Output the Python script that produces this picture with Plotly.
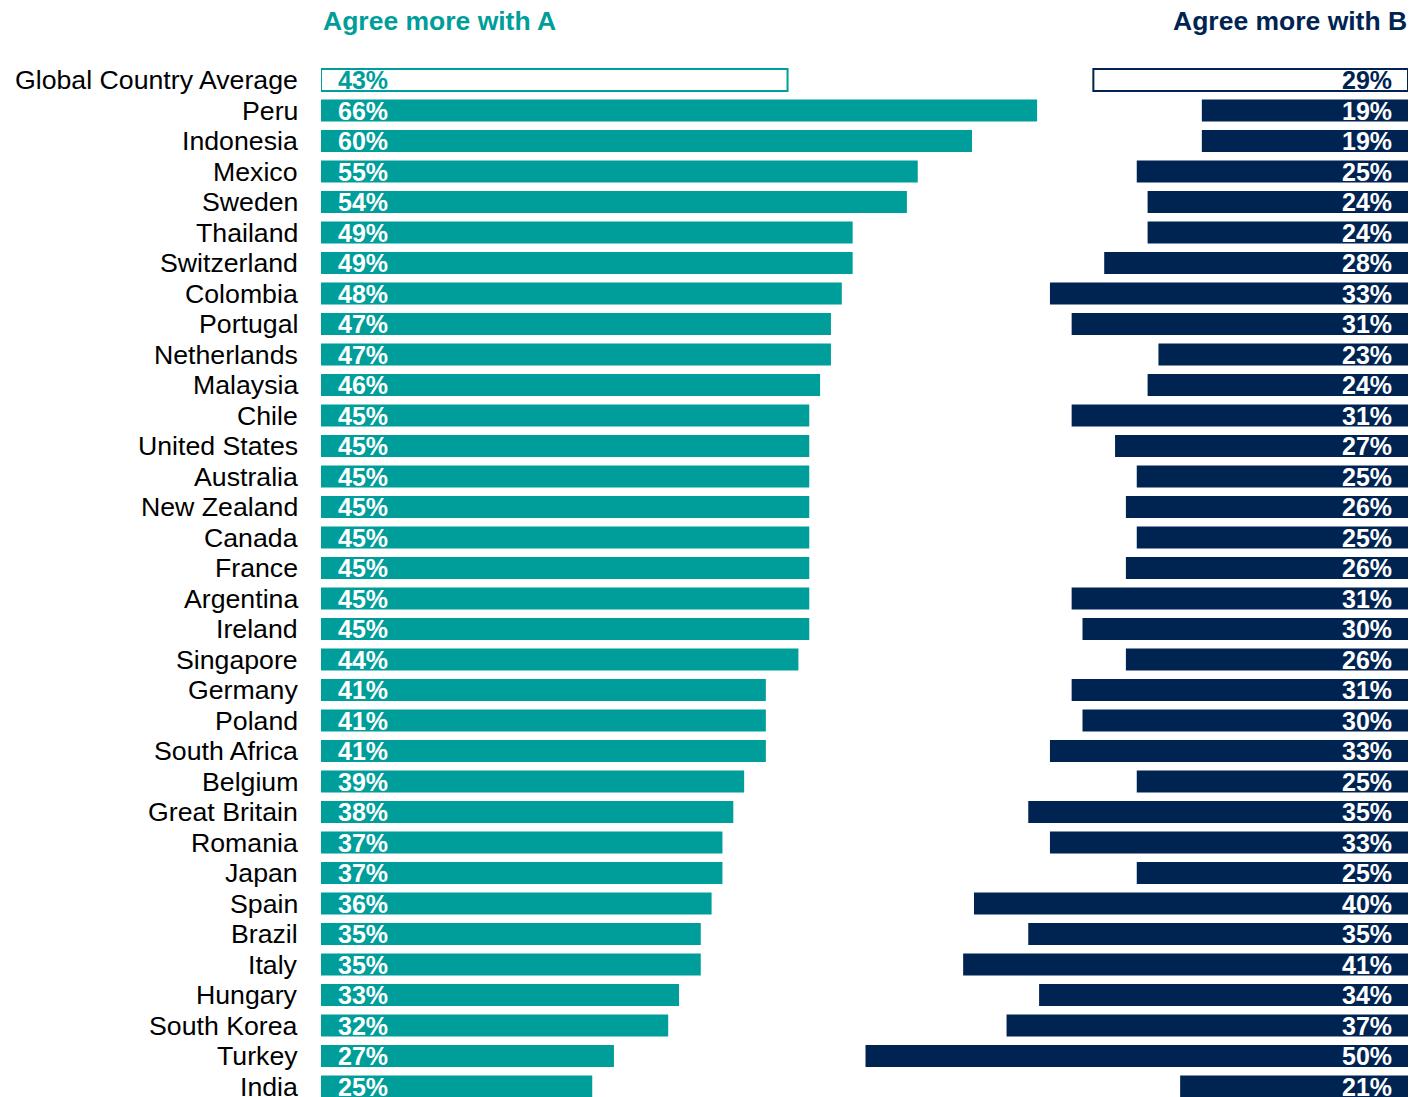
import plotly.graph_objects as go

# Survey results: share agreeing more with statement A vs statement B
countries = [
    "Global Country Average", "Peru", "Indonesia", "Mexico", "Sweden", "Thailand",
    "Switzerland", "Colombia", "Portugal", "Netherlands", "Malaysia", "Chile",
    "United States", "Australia", "New Zealand", "Canada", "France", "Argentina",
    "Ireland", "Singapore", "Germany", "Poland", "South Africa", "Belgium",
    "Great Britain", "Romania", "Japan", "Spain", "Brazil", "Italy", "Hungary",
    "South Korea", "Turkey", "India",
]
agree_a = [43, 66, 60, 55, 54, 49, 49, 48, 47, 47, 46, 45, 45, 45, 45, 45, 45, 45,
           45, 44, 41, 41, 41, 39, 38, 37, 37, 36, 35, 35, 33, 32, 27, 25]
agree_b = [29, 19, 19, 25, 24, 24, 28, 33, 31, 23, 24, 31, 27, 25, 26, 25, 26, 31,
           30, 26, 31, 30, 33, 25, 35, 33, 25, 40, 35, 41, 34, 37, 50, 21]

header_a = "Agree more with A"
header_b = "Agree more with B"

TEAL = "#009E9A"
NAVY = "#002452"
W, H = 1414, 1097
PX_PER_PCT = 10.85
ROW_TOP = 80      # centre of first row, px
ROW_STEP = 30.5   # row spacing, px
BAR_PX = 22

rows = list(range(len(countries)))
y_top = -ROW_TOP / ROW_STEP
y_bot = (H - ROW_TOP) / ROW_STEP

# one shared percentage axis: A bars grow rightwards from 0,
# B bars grow leftwards from the far end of the axis
LEFT_X0 = 321
RIGHT_X1 = 1408
X_MAX = (RIGHT_X1 - LEFT_X0) / PX_PER_PCT
base_b = [X_MAX - v for v in agree_b]

# first row (global average) is drawn as an outlined box
fill_a = ["white"] + [TEAL] * (len(rows) - 1)
fill_b = ["white"] + [NAVY] * (len(rows) - 1)
lw = [2] + [0] * (len(rows) - 1)

fig = go.Figure()
fig.add_trace(go.Bar(
    x=agree_a, y=rows, orientation="h",
    width=BAR_PX / ROW_STEP,
    marker=dict(color=fill_a, line=dict(color=TEAL, width=lw)),
    hoverinfo="skip", showlegend=False,
))
fig.add_trace(go.Bar(
    x=agree_b, base=base_b, y=rows, orientation="h",
    width=BAR_PX / ROW_STEP,
    marker=dict(color=fill_b, line=dict(color=NAVY, width=lw)),
    hoverinfo="skip", showlegend=False,
))

FONT = "Liberation Sans, Arial, sans-serif"
ann = []
for i, (name, a, b) in enumerate(zip(countries, agree_a, agree_b)):
    ann.append(dict(
        x=300 / W, xref="paper", y=i, yref="y", text=name, showarrow=False,
        xanchor="right", yanchor="middle", font=dict(family=FONT, size=26.7, color="#000000"),
    ))
    ann.append(dict(
        x=0, xref="x", xshift=15, y=i, yref="y", text=f"<b>{a}%</b>", showarrow=False,
        xanchor="left", yanchor="middle",
        font=dict(family=FONT, size=25, color=TEAL if i == 0 else "white"),
    ))
    ann.append(dict(
        x=X_MAX, xref="x", xshift=-14, y=i, yref="y", text=f"<b>{b}%</b>", showarrow=False,
        xanchor="right", yanchor="middle",
        font=dict(family=FONT, size=25, color=NAVY if i == 0 else "white"),
    ))

ann.append(dict(
    x=321 / W, xref="paper", y=1 - 21 / H, yref="paper", text=f"<b>{header_a}</b>",
    showarrow=False, xanchor="left", yanchor="middle",
    font=dict(family=FONT, size=26.5, color=TEAL),
))
ann.append(dict(
    x=1409 / W, xref="paper", y=1 - 21 / H, yref="paper", text=f"<b>{header_b}</b>",
    showarrow=False, xanchor="right", yanchor="middle",
    font=dict(family=FONT, size=26.5, color=NAVY),
))

hidden = dict(showgrid=False, zeroline=False, showticklabels=False, showline=False, ticks="")
fig.update_layout(
    width=W, height=H,
    margin=dict(l=0, r=0, t=0, b=0),
    paper_bgcolor="white", plot_bgcolor="white",
    barmode="overlay",
    xaxis=dict(domain=[LEFT_X0 / W, RIGHT_X1 / W], range=[0, X_MAX], fixedrange=True, **hidden),
    yaxis=dict(range=[y_bot, y_top], domain=[0, 1], fixedrange=True, **hidden),
    annotations=ann,
)

fig.write_html("out.html")
